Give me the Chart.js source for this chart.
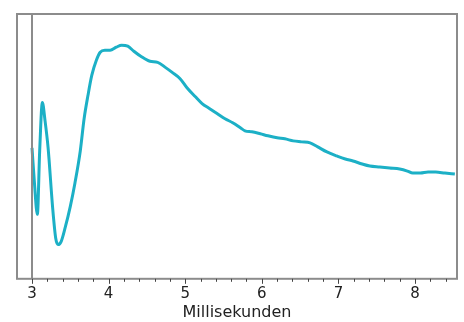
<!DOCTYPE html>
<html>
<head>
<meta charset="utf-8">
<script src="https://cdn.jsdelivr.net/npm/chart.js@4"></script>
<style>
  html, body { margin: 0; padding: 0; background: #fff; }
  #wrap { width: 464px; height: 322px; }
</style>
</head>
<body>
<div id="wrap"><canvas id="signalChart"></canvas></div>
<script>
// time in ms and signal amplitude (arbitrary units)
const timeMs = [3.00, 3.03, 3.07, 3.10, 3.135, 3.17, 3.21, 3.27, 3.31, 3.34, 3.38, 3.43, 3.50, 3.56, 3.63, 3.68,
  3.73, 3.78, 3.84, 3.89, 3.95, 4.02, 4.10, 4.17, 4.25, 4.33, 4.42, 4.54, 4.64, 4.74, 4.83, 4.93, 5.02, 5.13,
  5.22, 5.32, 5.42, 5.52, 5.62, 5.72, 5.78, 5.87, 5.98, 6.08, 6.20, 6.30, 6.41, 6.52, 6.63, 6.73, 6.85, 6.98,
  7.09, 7.19, 7.31, 7.41, 7.54, 7.67, 7.80, 7.90, 7.97, 8.07, 8.17, 8.27, 8.39, 8.52];
const amplitude = [130, 97, 64, 127, 175, 157, 130, 70, 40, 34, 37, 50, 72, 95, 127, 159,
  182, 202, 217, 225, 227, 227, 230, 232, 231, 226, 221, 216, 215, 210, 205, 199, 190, 181,
  174, 169, 164, 159, 155, 150, 147, 146, 144, 142, 140, 139, 137, 136, 135, 131, 126, 122,
  119, 117, 114, 112, 111, 110, 109, 107, 105, 105, 106, 106, 105, 104];
const tickLabels = ['3', '4', '5', '6', '7', '8'];
const minorStep = 0.2;

const frameColor = '#8c8c8c';

// grey frame round the plot, marker line at 3 ms and the little tick marks
const framePlugin = {
  id: 'frame',
  afterDraw(chart) {
    const { ctx, chartArea: a, scales } = chart;
    const xs = scales.x;
    ctx.save();
    ctx.strokeStyle = frameColor;
    ctx.lineWidth = 2;
    ctx.strokeRect(a.left, a.top, a.right - a.left, a.bottom - a.top);
    const x3 = Math.round(xs.getPixelForValue(Number(tickLabels[0])));
    ctx.beginPath();
    ctx.moveTo(x3, a.top);
    ctx.lineTo(x3, a.bottom);
    ctx.stroke();

    ctx.strokeStyle = '#444';
    ctx.lineWidth = 1;
    for (let v = Math.ceil(xs.min / minorStep) * minorStep; v <= xs.max; v += minorStep) {
      const val = Math.round(v * 10) / 10;
      const x = Math.round(xs.getPixelForValue(val)) + 0.5;
      const major = tickLabels.includes(String(val));
      ctx.beginPath();
      ctx.moveTo(x, a.bottom);
      ctx.lineTo(x, a.bottom + (major ? 5 : 3));
      ctx.stroke();
    }
    ctx.restore();
  }
};

const ctx = document.getElementById('signalChart').getContext('2d');
new Chart(ctx, {
  type: 'line',
  data: {
    datasets: [{
      data: timeMs.map((t, i) => ({ x: t, y: amplitude[i] })),
      borderColor: '#1cb0c6',
      borderWidth: 3,
      pointRadius: 0,
      cubicInterpolationMode: 'monotone',
      fill: false
    }]
  },
  options: {
    responsive: true,
    maintainAspectRatio: false,
    animation: false,
    layout: { padding: { left: 17, right: 7, top: 14, bottom: 0 } },
    plugins: { legend: { display: false }, tooltip: { enabled: false } },
    scales: {
      x: {
        type: 'linear',
        min: 2.804,
        max: 8.548,
        afterBuildTicks(scale) {
          scale.ticks = tickLabels.map(l => ({ value: Number(l) }));
        },
        ticks: {
          autoSkip: false,
          maxRotation: 0,
          padding: 6,
          color: '#222',
          font: { family: 'DejaVu Sans', size: 15 }
        },
        grid: {
          drawOnChartArea: false,
          drawTicks: false
        },
        border: { display: false },
        title: {
          display: true,
          text: 'Millisekunden',
          color: '#222',
          padding: { top: -6, bottom: 0 },
          font: { family: 'DejaVu Sans', size: 16 }
        }
      },
      y: {
        display: false,
        min: 0,
        max: 263
      }
    }
  },
  plugins: [framePlugin]
});
</script>
</body>
</html>
